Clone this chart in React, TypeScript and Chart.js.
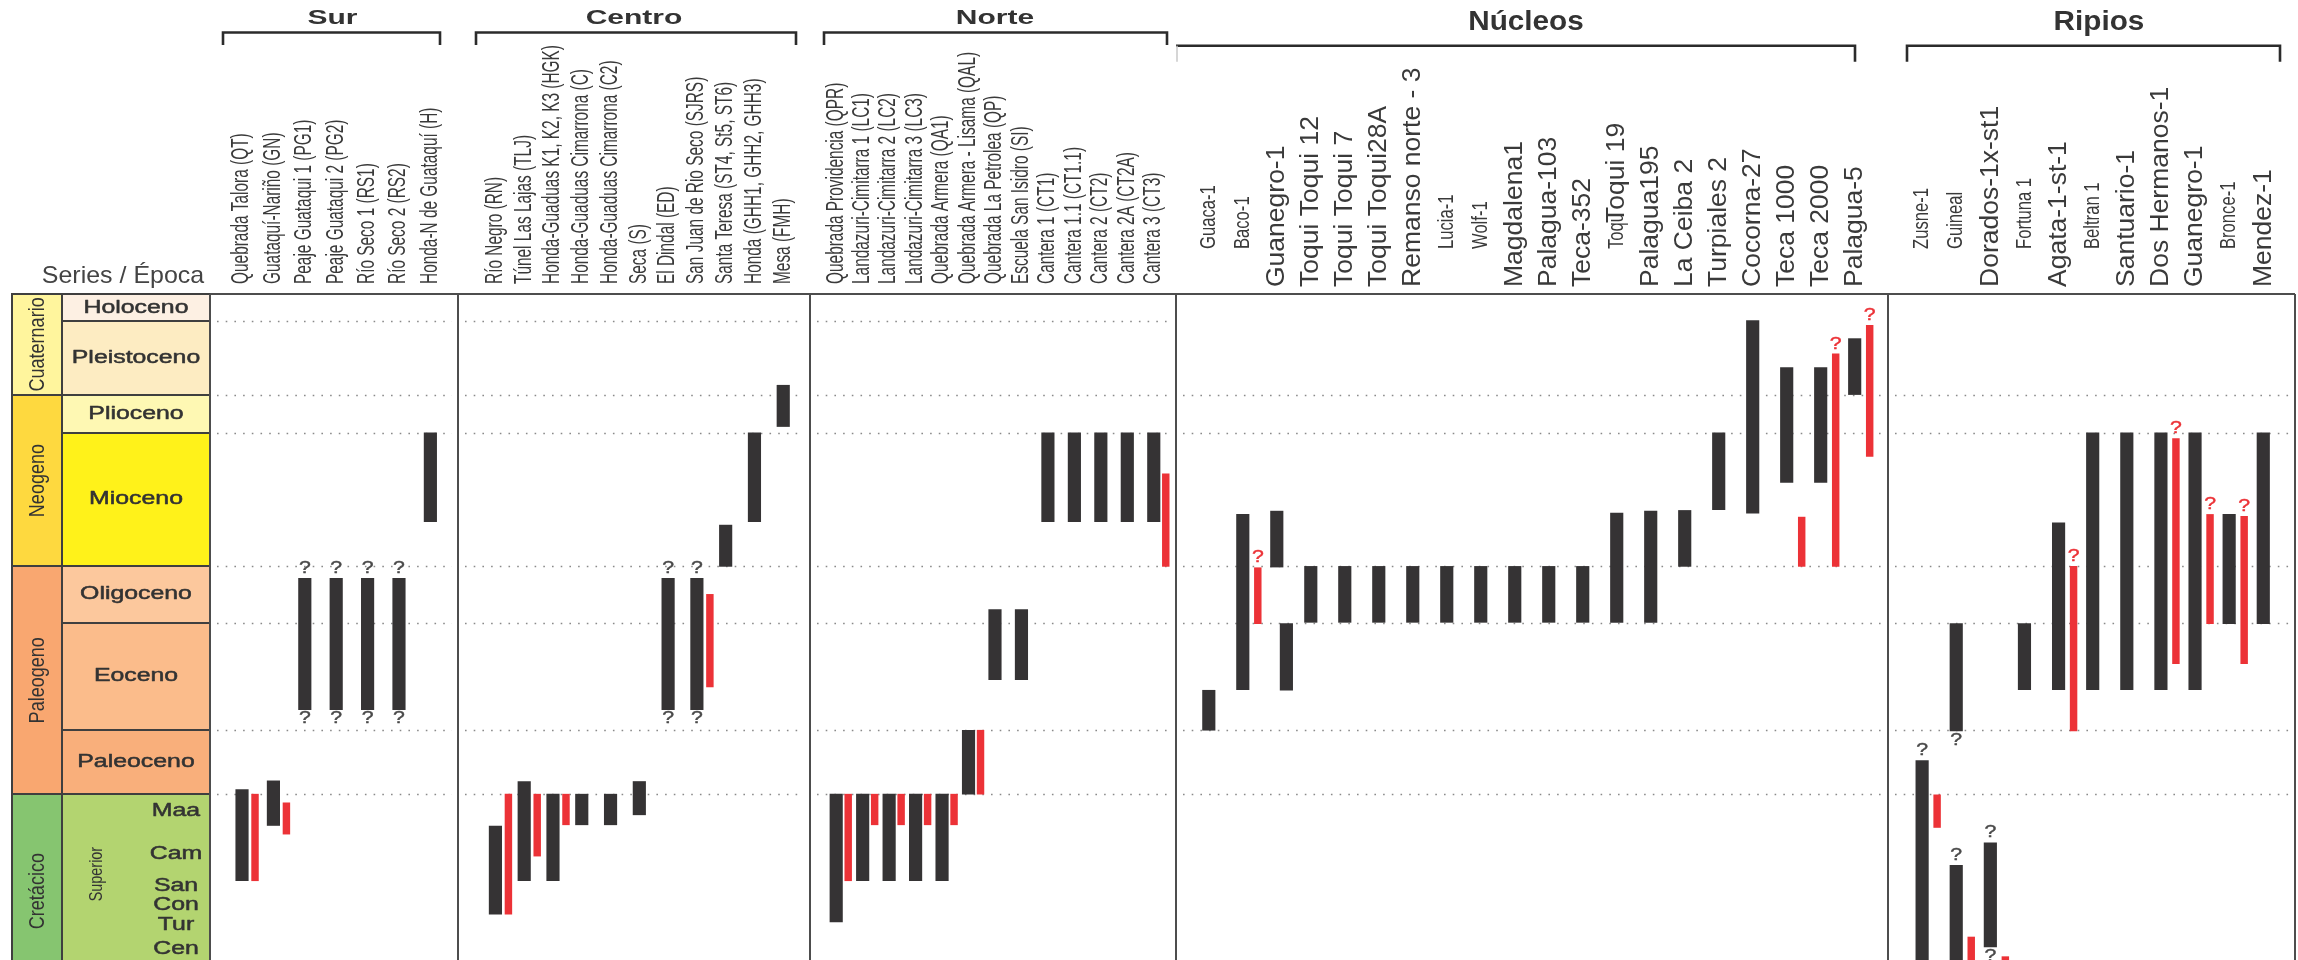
import React, { useEffect, useRef } from 'react';
import { Chart, registerables } from 'chart.js';

Chart.register(...registerables);

type Span = [number, number] | null;

/* ======================= DATA ======================= */
// Vertical axis: relative stratigraphic position (0 = top of the Holoceno, 100 = lower edge of the figure)
const epochNames = ['Holoceno', 'Pleistoceno', 'Plioceno', 'Mioceno', 'Oligoceno', 'Eoceno', 'Paleoceno', 'Superior'];
const epochTop = [0, 4.08, 15.15, 20.85, 40.87, 49.34, 65.48, 75.12];
const epochBase = [4.08, 15.15, 20.85, 40.87, 49.34, 65.48, 75.12, 104.2];

const periodNames = ['Cuaternario', 'Neogeno', 'Paleogeno', 'Cretácico'];
const periodTop = [0, 15.15, 40.87, 75.12];
const periodBase = [15.15, 40.87, 75.12, 104.2];

const stageNames = ['Maa', 'Cam', 'San', 'Con', 'Tur', 'Cen'];
const stageLevel = [77.66, 84.04, 88.92, 91.79, 94.71, 98.36];
const superiorLevel = 87.1;

// ---- Sur
const surLabels = ['Quebrada Talora (QT)', 'Guataquí-Nariño (GN)', 'Peaje Guataqui 1 (PG1)', 'Peaje Guataqui 2 (PG2)', 'Río Seco 1 (RS1)', 'Río Seco 2 (RS2)', 'Honda-N de Guataquí (H)'];
const surBlack: Span[] = [[74.4, 88.1], [73.1, 79.8], [42.7, 62.4], [42.7, 62.4], [42.7, 62.4], [42.7, 62.4], [20.85, 34.2]];
const surRed: Span[] = [[75.1, 88.1], [76.4, 81.1], null, null, null, null, null];
const surQueryTop = [2, 3, 4, 5];
const surQueryBase = [2, 3, 4, 5];

// ---- Centro
const centroLabels = ['Río Negro (RN)', 'Túnel Las Lajas (TLJ)', 'Honda-Guaduas K1, K2, K3 (HGK)', 'Honda-Guaduas Cimarrona (C)', 'Honda-Guaduas Cimarrona (C2)', 'Seca (S)', 'El Dindal (ED)', 'San Juan de Rio Seco (SJRS)', 'Santa Teresa (ST4, St5, ST6)', 'Honda (GHH1, GHH2, GHH3)', 'Mesa (FMH)'];
const centroBlack: Span[] = [[79.9, 93.1], [73.2, 88.1], [75.1, 88.1], [75.1, 79.7], [75.1, 79.7], [73.2, 78.2], [42.7, 62.4], [42.7, 62.4], [34.7, 40.9], [20.85, 34.2], [13.7, 19.9]];
const centroRed: Span[] = [[75.1, 93.1], [75.1, 84.4], [75.1, 79.7], null, null, null, null, [45.1, 59.0], null, null, null];
const centroQueryTop = [6, 7];
const centroQueryBase = [6, 7];

// ---- Norte
const norteLabels = ['Quebrada Providencia (QPR)', 'Landazuri-Cimitarra 1 (LC1)', 'Landazuri-Cimitarra 2 (LC2)', 'Landazuri-Cimitarra 3 (LC3)', 'Quebrada Armera (QA1)', 'Quebrada Armera - Lisama (QAL)', 'Quebrada La Petrolea (QP)', 'Escuela San Isidro (SI)', 'Cantera 1 (CT1)', 'Cantera 1.1 (CT1.1)', 'Cantera 2 (CT2)', 'Cantera 2A (CT2A)', 'Cantera 3 (CT3)'];
const norteBlack: Span[] = [[75.1, 94.3], [75.1, 88.1], [75.1, 88.1], [75.1, 88.1], [75.1, 88.1], [65.5, 75.1], [47.4, 57.9], [47.4, 57.9], [20.85, 34.2], [20.85, 34.2], [20.85, 34.2], [20.85, 34.2], [20.85, 34.2]];
const norteRed: Span[] = [[75.1, 88.1], [75.1, 79.7], [75.1, 79.7], [75.1, 79.7], [75.1, 79.7], [65.5, 75.1], null, null, null, null, null, null, [27.0, 40.9]];

// ---- Núcleos
const nucleosLabels = ['Guaca-1', 'Baco-1', 'Guanegro-1', 'Toqui Toqui 12', 'Toqui Toqui 7', 'Toqui Toqui28A', 'Remanso norte - 3', 'Lucia-1', 'Wolf-1', 'Magdalena1', 'Palagua-103', 'Teca-352', 'Toqui 19', 'Palagua195', 'La Ceiba 2', 'Turpiales 2', 'Cocorna-27', 'Teca 1000', 'Teca 2000', 'Palagua-5'];
const nucleosBlack: Span[] = [[59.5, 65.5], [33.1, 59.4], [32.6, 41.0], [40.9, 49.3], [40.9, 49.3], [40.9, 49.3], [40.9, 49.3], [40.9, 49.3], [40.9, 49.3], [40.9, 49.3], [40.9, 49.3], [40.9, 49.3], [32.9, 49.3], [32.6, 49.3], [32.5, 40.9], [20.85, 32.4], [4.0, 32.9], [11.05, 28.3], [11.05, 28.3], [6.7, 15.1]];
const nucleosBlack2: Span[] = [null, null, [49.5, 59.5], null, null, null, null, null, null, null, null, null, null, null, null, null, null, null, null, null];
const nucleosRed: Span[] = [null, [41.1, 49.5], null, null, null, null, null, null, null, null, null, null, null, null, null, null, null, [33.5, 40.9], [9.0, 40.9], [4.7, 24.4]];
const nucleosRedQueryTop = [1, 18, 19];

// ---- Ripios
const ripiosLabels = ['Zusne-1', 'Guineal', 'Dorados-1x-st1', 'Fortuna 1', 'Agata-1-st-1', 'Beltran 1', 'Santuario-1', 'Dos Hermanos-1', 'Guanegro-1', 'Bronce-1', 'Mendez-1'];
const ripiosBlack: Span[] = [[70.05, 104], [49.5, 65.6], [82.4, 98.05], [49.5, 59.4], [34.35, 59.4], [20.85, 59.4], [20.85, 59.4], [20.85, 59.4], [20.85, 59.4], [33.1, 49.5], [20.85, 49.5]];
const ripiosBlack2: Span[] = [null, [85.8, 104], null, null, null, null, null, null, null, null, null];
const ripiosRed: Span[] = [[75.2, 80.1], [96.55, 104], [99.5, 104], null, [40.9, 65.6], null, null, [21.7, 55.5], [33.1, 49.5], [33.4, 55.5], null];
const ripiosQueryTop = [0, 2];
const ripiosQueryBase = [1, 2];
const ripiosBlack2QueryTop = [1];
const ripiosRedQueryTop = [4, 7, 8, 9];

/* ======================= STYLE / LAYOUT ======================= */
const FONT = '"Liberation Sans", Arial, Helvetica, sans-serif';
const INK = '#333333';
const LABEL_INK = '#3a3a3a';
const BAR_DARK = '#353334';
const BAR_RED = '#ec3237';
const epochFill = ['#fdf0e3', '#fdecc2', '#fef8b3', '#fff21a', '#fcc89d', '#fbbc8b', '#f9af7b', '#b3d470'];
const periodFill = ['#fff59d', '#fed93f', '#f9a770', '#86c570'];

const CHART_TOP = 294;
const TABLE = { left: 12, split: 62, right: 210 };

const LABEL_STYLES: Record<string, { size: number; sx: number; bottom: number }> = {
  c: { size: 23, sx: 0.67, bottom: 284 },
  n: { size: 22, sx: 0.755, bottom: 249 },
  w: { size: 26.5, sx: 1, bottom: 287 },
};

const nucleosLabelKind = ['n', 'n', 'w', 'w', 'w', 'w', 'w', 'n', 'n', 'w', 'w', 'w', 'w', 'w', 'w', 'w', 'w', 'w', 'w', 'w'];
const ripiosLabelKind = ['n', 'n', 'w', 'n', 'w', 'n', 'w', 'w', 'w', 'n', 'w'];
const fill = (n: number, k: string) => Array.from({ length: n }, () => k);

interface PanelSpec {
  key: string;
  title: string;
  titleFont: string;
  titleSx: number;
  titleX: number;
  titleBaseline: number;
  bracket: [number, number];
  bracketY: number;
  bracketDrop: number;
  faintLeftTick?: boolean;
  left: number;
  right: number;
  padLeft: number;
  padRight: number;
  xMin: number;
  xMax: number;
  redShift: number;
  seg2Shift: number;
  table?: boolean;
  skipFirstBoundary?: boolean;
  labels: string[];
  labelKind: string[];
  labelBottom?: Record<number, number>;
  labelPrefix?: Record<number, string>;
  black: Span[];
  black2?: Span[];
  red: Span[];
  qTop?: number[];
  qBase?: number[];
  q2Top?: number[];
  qRedTop?: number[];
}

const EXT_TITLE = `bold 20px ${FONT}`;
const BIG_TITLE = `bold 27px ${FONT}`;

const PANELS: PanelSpec[] = [
  {
    key: 'sur', title: 'Sur', titleFont: EXT_TITLE, titleSx: 1.5, titleX: 332.5, titleBaseline: 24,
    bracket: [223, 440], bracketY: 32.5, bracketDrop: 12.5,
    left: 210, right: 458, padLeft: 210, padRight: 4, xMin: -1.02, xMax: 6.88, redShift: 13, seg2Shift: 0,
    table: true, labels: surLabels, labelKind: fill(surLabels.length, 'c'),
    black: surBlack, red: surRed, qTop: surQueryTop, qBase: surQueryBase,
  },
  {
    key: 'centro', title: 'Centro', titleFont: EXT_TITLE, titleSx: 1.5, titleX: 634, titleBaseline: 24,
    bracket: [476, 796], bracketY: 32.5, bracketDrop: 12.5,
    left: 458, right: 810, padLeft: 4, padRight: 4, xMin: -1.3, xMax: 10.93, redShift: 13, seg2Shift: 0,
    labels: centroLabels, labelKind: fill(centroLabels.length, 'c'),
    black: centroBlack, red: centroRed, qTop: centroQueryTop, qBase: centroQueryBase,
  },
  {
    key: 'norte', title: 'Norte', titleFont: EXT_TITLE, titleSx: 1.5, titleX: 995, titleBaseline: 24,
    bracket: [824, 1167], bracketY: 32.5, bracketDrop: 12.5,
    left: 810, right: 1176, padLeft: 4, padRight: 4, xMin: -0.99, xMax: 12.84, redShift: 12, seg2Shift: 0,
    labels: norteLabels, labelKind: fill(norteLabels.length, 'c'),
    black: norteBlack, red: norteRed,
  },
  {
    key: 'nucleos', title: 'Núcleos', titleFont: BIG_TITLE, titleSx: 1.1, titleX: 1526, titleBaseline: 30,
    bracket: [1176, 1855], bracketY: 45.7, bracketDrop: 16, faintLeftTick: true,
    left: 1176, right: 1888, padLeft: 4, padRight: 4, xMin: -0.965, xMax: 19.98, redShift: 15, seg2Shift: 9.6,
    skipFirstBoundary: true,
    labels: nucleosLabels, labelKind: nucleosLabelKind, labelBottom: { 12: 223 }, labelPrefix: { 12: 'Toqu' },
    black: nucleosBlack, black2: nucleosBlack2, red: nucleosRed, qRedTop: nucleosRedQueryTop,
  },
  {
    key: 'ripios', title: 'Ripios', titleFont: BIG_TITLE, titleSx: 1.1, titleX: 2099, titleBaseline: 30,
    bracket: [1907, 2280], bracketY: 45.7, bracketDrop: 16,
    left: 1888, right: 2295, padLeft: 4, padRight: 3, xMin: -1.0, xMax: 10.93, redShift: 15, seg2Shift: 0,
    skipFirstBoundary: true,
    labels: ripiosLabels, labelKind: ripiosLabelKind,
    black: ripiosBlack, black2: ripiosBlack2, red: ripiosRed,
    qTop: ripiosQueryTop, qBase: ripiosQueryBase, q2Top: ripiosBlack2QueryTop, qRedTop: ripiosRedQueryTop,
  },
];

/* ======================= DRAWING HELPERS ======================= */
function drawText(
  ctx: CanvasRenderingContext2D, s: string, x: number, y: number,
  o: { font: string; color: string; align?: CanvasTextAlign; baseline?: CanvasTextBaseline; sx?: number; rotate?: boolean; heavy?: number },
) {
  ctx.save();
  ctx.translate(x, y);
  if (o.rotate) ctx.rotate(-Math.PI / 2);
  if (o.sx && o.sx !== 1) ctx.scale(o.sx, 1);
  ctx.font = o.font;
  ctx.fillStyle = o.color;
  ctx.textAlign = o.align ?? 'center';
  ctx.textBaseline = o.baseline ?? 'middle';
  ctx.fillText(s, 0, 0);
  if (o.heavy) {
    ctx.strokeStyle = o.color;
    ctx.lineWidth = o.heavy;
    ctx.lineJoin = 'round';
    ctx.strokeText(s, 0, 0);
  }
  ctx.restore();
}

function drawTable(ctx: CanvasRenderingContext2D, y: any) {
  const px = (v: number) => Math.round(y.getPixelForValue(v));
  ctx.save();
  epochNames.forEach((_, i) => {
    ctx.fillStyle = epochFill[i];
    ctx.fillRect(TABLE.split, px(epochTop[i]), TABLE.right - TABLE.split, px(epochBase[i]) - px(epochTop[i]));
  });
  periodNames.forEach((_, i) => {
    ctx.fillStyle = periodFill[i];
    ctx.fillRect(TABLE.left, px(periodTop[i]), TABLE.split - TABLE.left, px(periodBase[i]) - px(periodTop[i]));
  });
  ctx.strokeStyle = '#3f3f3f';
  ctx.lineWidth = 2;
  epochNames.forEach((_, i) => ctx.strokeRect(TABLE.split, px(epochTop[i]), TABLE.right - TABLE.split, px(epochBase[i]) - px(epochTop[i])));
  periodNames.forEach((_, i) => ctx.strokeRect(TABLE.left, px(periodTop[i]), TABLE.split - TABLE.left, px(periodBase[i]) - px(periodTop[i])));
  ctx.restore();

  const epochFont = `18px ${FONT}`;
  const epochCx = (TABLE.split + TABLE.right) / 2;
  epochNames.forEach((name, i) => {
    if (i === epochNames.length - 1) {
      drawText(ctx, name, 97, y.getPixelForValue(superiorLevel), { font: `18px ${FONT}`, color: INK, sx: 0.8, rotate: true });
    } else {
      const yc = (y.getPixelForValue(epochTop[i]) + y.getPixelForValue(epochBase[i])) / 2;
      drawText(ctx, name, epochCx, yc, { font: epochFont, color: INK, sx: 1.38, heavy: 0.5 });
    }
  });
  stageNames.forEach((name, i) => {
    drawText(ctx, name, 176, y.getPixelForValue(stageLevel[i]), { font: epochFont, color: INK, sx: 1.38, heavy: 0.5 });
  });
  periodNames.forEach((name, i) => {
    const yc = (y.getPixelForValue(periodTop[i]) + y.getPixelForValue(periodBase[i])) / 2;
    drawText(ctx, name, (TABLE.left + TABLE.split) / 2 + 0.5, yc, { font: `22px ${FONT}`, color: INK, sx: 0.82, rotate: true });
  });
  drawText(ctx, 'Series / Época', 123, 283, { font: `24px ${FONT}`, color: '#444444', baseline: 'alphabetic', sx: 1.04 });
}

function overlayPlugin(p: PanelSpec, canvasLeft: number) {
  const toC = (pagePx: number) => pagePx - canvasLeft;
  const boundaries = epochTop.slice(1);
  return {
    id: 'stratOverlay',
    beforeDatasetsDraw(chart: any) {
      const { ctx, chartArea: a, scales } = chart;
      const y = scales.y;
      if (p.table) drawTable(ctx, y);
      ctx.save();
      ctx.strokeStyle = '#8a8a8a';
      ctx.lineWidth = 1.6;
      ctx.setLineDash([1.6, 7.1]);
      boundaries.slice(p.skipFirstBoundary ? 1 : 0).forEach((v) => {
        const yy = Math.round(y.getPixelForValue(v)) + 0.5;
        ctx.beginPath();
        ctx.moveTo(a.left + 7, yy);
        ctx.lineTo(a.right - 6, yy);
        ctx.stroke();
      });
      ctx.restore();
    },
    afterDatasetsDraw(chart: any) {
      const { ctx, chartArea: a, scales } = chart;
      const y = scales.y;

      // panel frame
      ctx.save();
      ctx.strokeStyle = '#4d4d4d';
      ctx.lineWidth = 2;
      ctx.beginPath();
      ctx.moveTo(a.left, a.top);
      ctx.lineTo(a.right, a.top);
      ctx.moveTo(a.left, a.top);
      ctx.lineTo(a.left, chart.height);
      ctx.moveTo(a.right, a.top);
      ctx.lineTo(a.right, chart.height);
      ctx.stroke();
      ctx.restore();

      // question marks (uncertain limits)
      const qFont = `17px ${FONT}`;
      const mark = (scaleId: string, spans: Span[] | undefined, idx: number[] | undefined, where: 'top' | 'base', color: string) => {
        if (!spans || !idx) return;
        idx.forEach((i) => {
          const s = spans[i];
          if (!s) return;
          const xx = scales[scaleId].getPixelForValue(i);
          const yy = where === 'top' ? y.getPixelForValue(s[0]) - 10 : y.getPixelForValue(s[1]) + 9;
          drawText(ctx, '?', xx, yy, { font: qFont, color, sx: 1.25, heavy: 0.4 });
        });
      };
      mark('x', p.black, p.qTop, 'top', '#4a4a4a');
      mark('x', p.black, p.qBase, 'base', '#4a4a4a');
      mark('xs', p.black2, p.q2Top, 'top', '#4a4a4a');
      mark('xr', p.red, p.qRedTop, 'top', BAR_RED);

      // column labels
      p.labels.forEach((lab, i) => {
        const st = LABEL_STYLES[p.labelKind[i]];
        const xx = scales.x.getPixelForValue(i);
        const prefix = p.labelPrefix?.[i];
        if (prefix) {
          const ns = LABEL_STYLES.n;
          drawText(ctx, prefix, xx, ns.bottom, { font: `${ns.size}px ${FONT}`, color: LABEL_INK, sx: ns.sx, rotate: true, align: 'left' });
        }
        const bottom = p.labelBottom?.[i] ?? st.bottom;
        drawText(ctx, lab, xx, bottom, { font: `${st.size}px ${FONT}`, color: LABEL_INK, sx: st.sx, rotate: true, align: 'left' });
      });

      // group bracket and title
      ctx.save();
      ctx.strokeStyle = '#2b2b2b';
      ctx.lineWidth = 2.6;
      ctx.lineJoin = 'miter';
      const [bl, br] = p.bracket;
      ctx.beginPath();
      if (p.faintLeftTick) {
        ctx.moveTo(toC(bl), p.bracketY);
      } else {
        ctx.moveTo(toC(bl), p.bracketY + p.bracketDrop);
        ctx.lineTo(toC(bl), p.bracketY);
      }
      ctx.lineTo(toC(br), p.bracketY);
      ctx.lineTo(toC(br), p.bracketY + p.bracketDrop);
      ctx.stroke();
      if (p.faintLeftTick) {
        ctx.strokeStyle = '#c8c8c8';
        ctx.lineWidth = 1.5;
        ctx.beginPath();
        ctx.moveTo(toC(bl) + 1, p.bracketY);
        ctx.lineTo(toC(bl) + 1, p.bracketY + p.bracketDrop);
        ctx.stroke();
      }
      ctx.restore();
      drawText(ctx, p.title, toC(p.titleX), p.titleBaseline, { font: p.titleFont, color: INK, sx: p.titleSx, baseline: 'alphabetic' });
    },
  };
}

const clearTicks = (axis: any) => {
  axis.ticks = [];
};

function buildConfig(p: PanelSpec, canvasLeft: number): any {
  const width = p.right - p.left;
  const unitPx = width / (p.xMax - p.xMin);
  const shiftedAxis = (shiftPx: number) => ({
    type: 'linear',
    display: false,
    min: p.xMin - shiftPx / unitPx,
    max: p.xMax - shiftPx / unitPx,
    afterBuildTicks: clearTicks,
  });
  const points = (spans?: Span[]) =>
    (spans ?? []).map((s, i) => (s ? { x: i, y: s } : null)).filter((d) => d !== null);

  return {
    type: 'bar',
    data: {
      datasets: [
        { label: 'Edad asignada', data: points(p.black), xAxisID: 'x', yAxisID: 'y', backgroundColor: BAR_DARK, maxBarThickness: 12.5 },
        { label: 'Edad asignada (tramo 2)', data: points(p.black2), xAxisID: 'xs', yAxisID: 'y', backgroundColor: BAR_DARK, maxBarThickness: 12.5 },
        { label: 'Edad alternativa', data: points(p.red), xAxisID: 'xr', yAxisID: 'y', backgroundColor: BAR_RED, maxBarThickness: 6.8 },
      ],
    },
    options: {
      responsive: false,
      maintainAspectRatio: false,
      animation: false,
      events: [],
      layout: { padding: { top: CHART_TOP, bottom: 0, left: p.padLeft, right: p.padRight } },
      plugins: { legend: { display: false }, tooltip: { enabled: false }, title: { display: false } },
      datasets: { bar: { grouped: false, categoryPercentage: 1, barPercentage: 1, borderWidth: 0 } },
      scales: {
        x: { type: 'linear', display: false, min: p.xMin, max: p.xMax, afterBuildTicks: clearTicks },
        xr: shiftedAxis(p.redShift),
        xs: shiftedAxis(p.seg2Shift),
        y: { type: 'linear', display: false, reverse: true, min: 0, max: 100, afterBuildTicks: clearTicks },
      },
    },
    plugins: [overlayPlugin(p, canvasLeft)],
  };
}

function StratPanel({ spec }: { spec: PanelSpec }) {
  const ref = useRef<HTMLCanvasElement | null>(null);
  const canvasLeft = spec.left - spec.padLeft;
  const width = spec.right + spec.padRight - canvasLeft;
  useEffect(() => {
    if (!ref.current) return;
    const chart = new Chart(ref.current, buildConfig(spec, canvasLeft));
    return () => chart.destroy();
  }, [spec, canvasLeft]);
  return (
    <canvas
      ref={ref}
      width={width}
      height={960}
      style={{ position: 'absolute', left: canvasLeft, top: 0, width, height: 960 }}
    />
  );
}

export default function App() {
  return (
    <div style={{ position: 'absolute', left: 0, top: 0, width: 2298, height: 960, background: '#ffffff', overflow: 'hidden' }}>
      {PANELS.map((p) => (
        <StratPanel key={p.key} spec={p} />
      ))}
    </div>
  );
}
